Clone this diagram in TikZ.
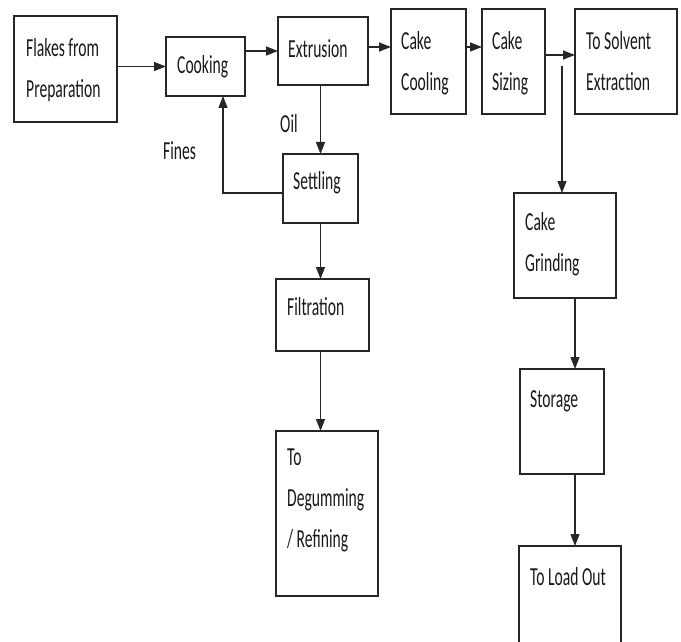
\documentclass[tikz,border=0pt]{standalone}
\usepackage{fontspec}
\setmainfont{Carlito}[FakeStretch=0.6]
\usetikzlibrary{arrows.meta}
\begin{document}
\begin{tikzpicture}[x=1pt,y=-1pt,
  box/.style={draw=black!85,line width=1.5pt,inner sep=0pt,outer sep=0pt,rectangle},
  txt/.style={anchor=north west,inner sep=0pt,align=left,font=\fontsize{26}{41}\selectfont,text=black!90},
  flow/.style={draw=black!85,line width=1.3pt,-{Triangle[length=12pt,width=9pt]}}]
\useasboundingbox (0,0) rectangle (681,642);
\clip (0,0) rectangle (681,642);
% boxes
\node[box,minimum width=103pt,minimum height=106pt] (flakes) at (65.5,69) {};
\node[box,minimum width=79pt,minimum height=59pt] (cooking) at (205.5,66.5) {};
\node[box,minimum width=90pt,minimum height=68pt] (extrusion) at (323,51) {};
\node[box,minimum width=75pt,minimum height=105pt] (cooling) at (428.5,61.5) {};
\node[box,minimum width=63pt,minimum height=105pt] (sizing) at (513.5,61.5) {};
\node[box,minimum width=102pt,minimum height=105pt] (solvent) at (626,61.5) {};
\node[box,minimum width=75pt,minimum height=69pt] (settling) at (320.5,188.5) {};
\node[box,minimum width=93pt,minimum height=72pt] (filtration) at (322.5,315) {};
\node[box,minimum width=102pt,minimum height=165pt] (degumming) at (327,513.5) {};
\node[box,minimum width=102pt,minimum height=105pt] (grinding) at (565,245.5) {};
\node[box,minimum width=84pt,minimum height=105pt] (storage) at (562,421.5) {};
\node[box,minimum width=102pt,minimum height=114pt] (loadout) at (570,603) {};
% texts
\node[txt] (tflakes) at (26,38) {Flakes from\\Preparation};
\node[txt] (tcooking) at (177,55) {Cooking};
\node[txt] (textrusion) at (288,39) {Extrusion};
\node[txt] (tcooling) at (401,31) {Cake\\Cooling};
\node[txt] (tsizing) at (492,31) {Cake\\Sizing};
\node[txt] (tsolvent) at (586,31) {To Solvent\\Extraction};
\node[txt] (tsettling) at (293,171) {Settling};
\node[txt] (tfiltration) at (287,297) {Filtration};
\node[txt] (tdegumming) at (287,449) {To\\Degumming\\/ Refining};
\node[txt] (tgrinding) at (525,212) {Cake\\Grinding};
\node[txt] (tstorage) at (530,390) {Storage};
\node[txt] (tloadout) at (530,567) {To Load Out};
\node[txt] (oil) at (280,114) {Oil};
\node[txt] (fines) at (163,141) {Fines};
% connectors
\draw[flow,line width=1.6pt] (flakes.east |- cooking.west) -- (cooking.west);
\draw[flow,line width=1.6pt] (cooking.east |- extrusion.west) -- (extrusion.west);
\draw[flow,line width=1.6pt] ([yshift=4pt]extrusion.east) -- ([yshift=14.5pt]cooling.west);
\draw[flow,line width=1.6pt] ([yshift=14.5pt]cooling.east) -- ([yshift=14.5pt]sizing.west);
\draw[flow,line width=1.6pt] ([yshift=6.5pt]sizing.east) -- ([yshift=6.5pt]solvent.west);
\coordinate (gsrc) at (562,66);
\draw[flow,line width=1.1pt] (gsrc) -- (gsrc |- grinding.north);
\draw[flow] (extrusion.south -| settling.north) -- (settling.north);
\draw[flow] ([yshift=-4.5pt]settling.west) -| ([xshift=17.5pt]cooking.south);
\draw[flow] (settling.south) -- (settling.south |- filtration.north);
\draw[flow] (filtration.south -| settling.south) -- (settling.south |- degumming.north);
\draw[flow] ([xshift=10pt]grinding.south) -- ([xshift=10pt]grinding.south |- storage.north);
\draw[flow] ([xshift=13pt]storage.south) -- ([xshift=13pt]storage.south |- loadout.north);
\end{tikzpicture}
\end{document}
